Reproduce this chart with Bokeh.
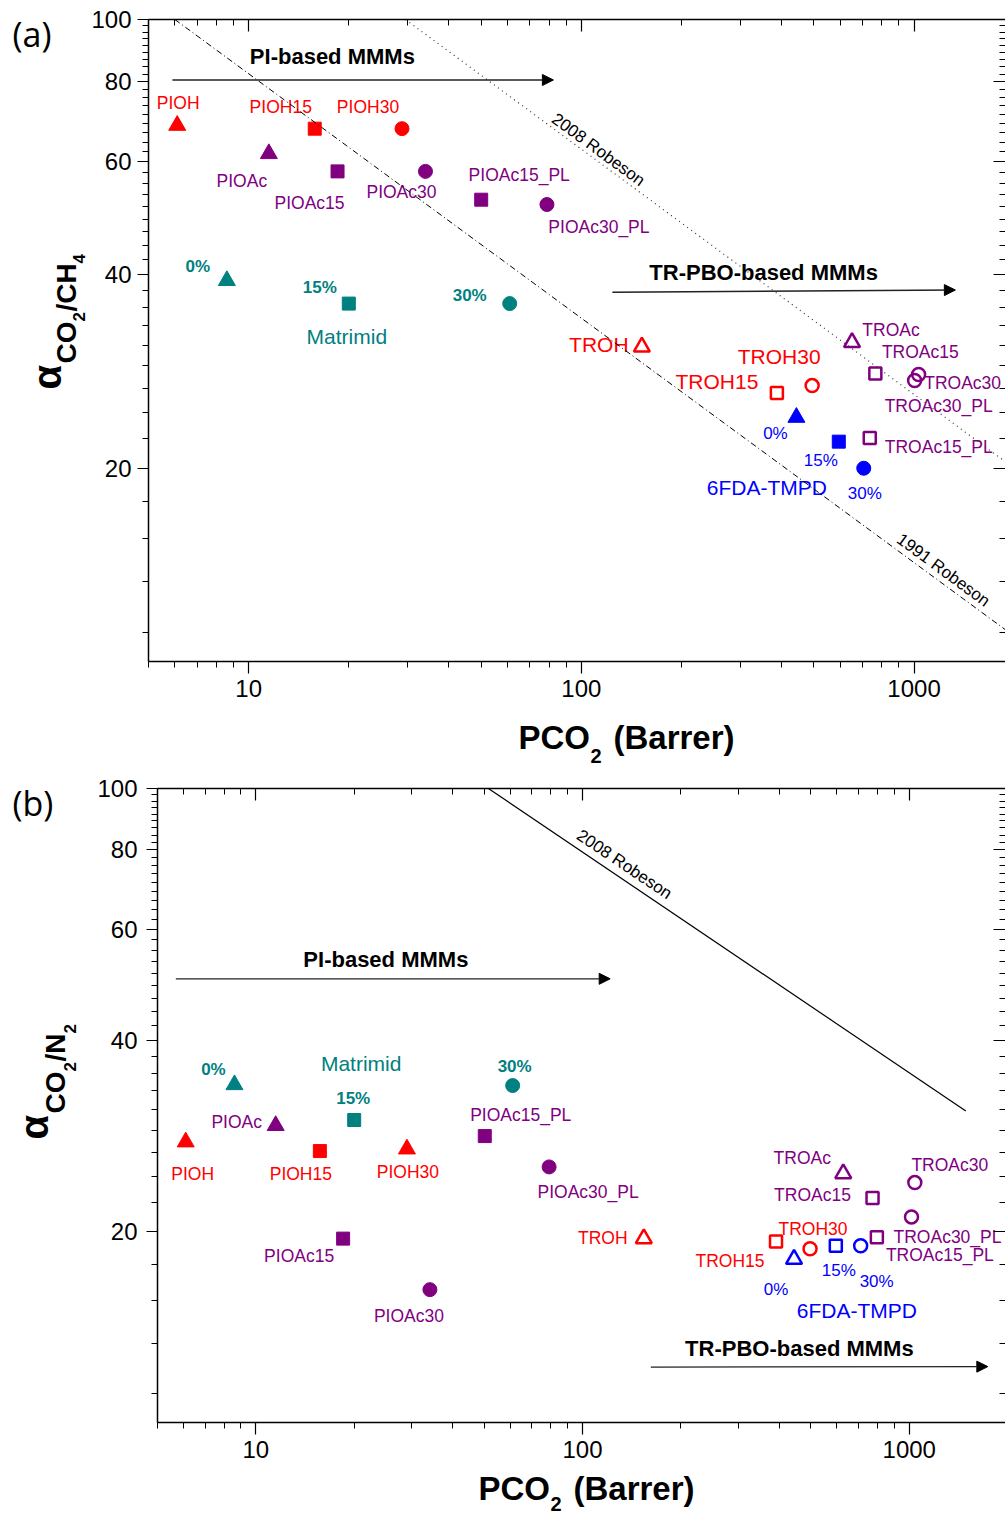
from bokeh.plotting import figure
from bokeh.models import (ColumnDataSource, FixedTicker, PrintfTickFormatter,
                          LogAxis, Range1d, Label, Arrow, NormalHead)
from bokeh.layouts import column, row
from bokeh.core.properties import value
from bokeh.embed import file_html
from bokeh.resources import INLINE

FONT = "Liberation Sans"
RED, PURPLE, TEAL, BLUE = "#FF0000", "#800080", "#008080", "#0000FF"

# ---------------- data ----------------
materials = ["PIOH", "PIOH15", "PIOH30", "PIOAc", "PIOAc15", "PIOAc30",
             "PIOAc15_PL", "PIOAc30_PL", "Matrimid 0%", "Matrimid 15%",
             "Matrimid 30%", "TROH", "TROH15", "TROH30", "TROAc", "TROAc15",
             "TROAc30", "TROAc30_PL", "TROAc15_PL", "6FDA-TMPD 0%",
             "6FDA-TMPD 15%", "6FDA-TMPD 30%"]
material_color = [RED] * 3 + [PURPLE] * 5 + [TEAL] * 3 + [RED] * 3 + [PURPLE] * 5 + [BLUE] * 3

marker_a = ["triangle", "square", "circle", "triangle", "square", "circle", "square", "circle",
            "triangle", "square", "circle", "triangle", "square", "circle", "triangle", "square",
            "circle", "circle", "square", "triangle", "square", "circle"]
filled_a = [1] * 11 + [0] * 8 + [1] * 3
marker_b = ["triangle", "square", "triangle", "triangle", "square", "circle", "square", "circle",
            "triangle", "square", "circle", "triangle", "square", "circle", "triangle", "square",
            "circle", "circle", "square", "triangle", "square", "circle"]
filled_b = [1] * 11 + [0] * 11

# (a) CO2/CH4
pco2_ch4 = [6.1, 15.8, 28.9, 11.5, 18.5, 34.0, 50.0, 78.8, 8.6, 20.0, 60.9,
            152, 387, 494, 651, 765, 1032, 1004, 736, 443, 594, 706]
sel_ch4 = [68.4, 67.6, 67.6, 61.8, 58.0, 58.0, 52.4, 51.5, 39.2, 36.1, 36.1,
           30.9, 26.2, 26.9, 31.4, 28.1, 28.0, 27.4, 22.3, 24.0, 22.0, 20.0]
# (b) CO2/N2
pco2_n2 = [6.1, 15.7, 29.0, 11.5, 18.5, 34.1, 50.2, 79.0, 8.6, 20.0, 61.1,
           154, 391, 497, 628, 772, 1040, 1016, 796, 444, 596, 710]
sel_n2 = [27.7, 26.8, 27.0, 29.4, 19.5, 16.2, 28.3, 25.3, 34.1, 30.0, 34.0,
          19.5, 19.3, 18.8, 24.7, 22.6, 23.9, 21.1, 19.6, 18.1, 19.0, 19.0]

label_text = ["PIOH", "PIOH15", "PIOH30", "PIOAc", "PIOAc15", "PIOAc30", "PIOAc15_PL",
              "PIOAc30_PL", "0%", "15%", "30%", "TROH", "TROH15", "TROH30", "TROAc",
              "TROAc15", "TROAc30", "TROAc30_PL", "TROAc15_PL", "0%", "15%", "30%",
              "Matrimid", "6FDA-TMPD"]
label_anchor = list(range(22)) + [9, 20]

# Robeson upper bounds (end points)
rob91_ch4_p, rob91_ch4_a = [6.0, 2000], [100, 10.95]
rob08_ch4_p, rob08_ch4_a = [29.6, 2000], [100, 20.0]
rob08_n2_p, rob08_n2_a = [51.5, 1490], [100, 31.0]

x_major = [10, 100, 1000]
x_minor = [m * d for d in (1, 10, 100, 1000) for m in range(2, 10)]
y_major = [20, 40, 60, 80, 100]
y_minor = [20 * n / 9 for n in range(5, 46) if n % 9]

# ---------------- layout / style ----------------
marker_size = {"triangle": 17, "square": 13, "circle": 14}

lab_off_a = [(1, -22), (-34, -22), (-34, -22), (-27, 27), (-28, 32), (-24, 21), (38, -25),
             (52, 22), (-29, -14), (-29, -16), (-40, -8), (-43, -2), (-60, -11), (-33, -29),
             (39, -12), (45, -21), (44, 9), (24, 26), (69, 9), (-21, 16), (-18, 19), (1, 25),
             (-2, 33), (-72, 46)]
lab_size_a = [17.5] * 8 + [17] * 3 + [21] * 3 + [17.5] * 5 + [17] * 3 + [21, 21]
lab_off_b = [(7, 32), (-19, 23), (1, 23), (-39, -4), (-44, 17), (-21, 26), (36, -21),
             (39, 25), (-21, -15), (-1, -22), (2, -19), (-41, -1), (-46, 20), (3, -20),
             (-41, -16), (-60, -3), (35, -18), (36, 20), (63, 18), (-18, 30), (3, 25),
             (16, 36), (7, -57), (21, 65)]
lab_size_b = [17.5] * 8 + [17] * 3 + [17.5] * 3 + [17.5] * 5 + [17] * 3 + [21, 21]
lab_bold = [0] * 8 + [1] * 3 + [0] * 13

YT_W = 88  # width of the strip that carries the y-axis title


def style_axis(ax, inward=False):
    ax.axis_line_color = "black"
    ax.axis_line_width = 1.5
    ax.major_tick_line_color = "black"
    ax.minor_tick_line_color = "black"
    ax.major_tick_line_width = 1.2
    ax.minor_tick_line_width = 1.0
    if inward:
        ax.major_tick_in, ax.major_tick_out = 12, 0
        ax.minor_tick_in, ax.minor_tick_out = 6, 0
        ax.major_label_text_font_size = "1px"
        ax.major_label_text_alpha = 0.0
        ax.major_label_standoff = 0
        ax.major_label_overrides = {t: " " for t in (x_major + y_major)}
    else:
        ax.major_tick_in, ax.major_tick_out = 0, 11
        ax.minor_tick_in, ax.minor_tick_out = 0, 6
        ax.major_label_text_font = FONT
        ax.major_label_text_font_size = "24px"
        ax.major_label_text_color = "black"
        ax.formatter = PrintfTickFormatter(format="%d")


def add_label(p, text, size, x, y, bold=True, angle=0.0):
    p.add_layout(Label(x=x, y=y, text=text, text_font=FONT,
                       text_font_size=f"{size}px",
                       text_font_style="bold" if bold else "normal",
                       angle=angle, text_align="center", text_baseline="middle",
                       text_color="black"))


def text_fig(w, h, items):
    """Blank strip whose data units are its own pixels (y measured from top)."""
    f = figure(width=w, height=h, x_range=Range1d(0, w), y_range=Range1d(0, h),
               output_backend="svg", toolbar_location=None, min_border=0,
               x_axis_location=None, y_axis_location=None)
    f.grid.visible = False
    f.outline_line_color = None
    f.frame_align = False
    for (txt, x, y, size, bold, angle, font) in items:
        f.text(x=[x], y=[h - y], text=[txt], angle=angle, text_font=value(font),
               text_font_size=f"{size}px",
               text_font_style="bold" if bold else "normal",
               text_align="left", text_baseline="middle", text_color="black")
    return f


def make_panel(W, H, L, T, B, frame_left, xdec, px, sel, markers, filled, offs,
               sizes, standoff):
    xend = 5 * 10 ** ((1005 - frame_left) / xdec)
    p = figure(width=W, height=H, x_axis_type="log", y_axis_type="log",
               x_range=Range1d(5, xend), y_range=Range1d(10, 100),
               output_backend="svg", toolbar_location=None,
               min_border_left=L, min_border_right=0, min_border_top=T,
               min_border_bottom=B)
    p.frame_align = False
    p.outline_line_color = None
    p.grid.visible = False
    p.background_fill_color = "white"
    p.border_fill_color = "white"

    style_axis(p.xaxis[0])
    p.xaxis[0].ticker = FixedTicker(ticks=x_major, minor_ticks=x_minor)
    p.xaxis[0].major_tick_out = 12
    p.xaxis[0].major_label_standoff = 6
    style_axis(p.yaxis[0])
    p.yaxis[0].ticker = FixedTicker(ticks=y_major, minor_ticks=y_minor)
    p.yaxis[0].major_label_standoff = standoff

    top = LogAxis(ticker=FixedTicker(ticks=x_major, minor_ticks=x_minor))
    style_axis(top, inward=True)
    p.add_layout(top, "above")
    right = LogAxis(ticker=FixedTicker(ticks=y_major, minor_ticks=y_minor))
    style_axis(right, inward=True)
    right.axis_line_color = None
    p.add_layout(right, "right")

    src = ColumnDataSource(dict(
        x=px, y=sel, marker=markers,
        size=[marker_size[m] - (0 if f else 1) for m, f in zip(markers, filled)],
        color=material_color, fa=[1.0 if f else 0.0 for f in filled],
        lw=[1.0 if f else 2.5 for f in filled]))
    p.scatter(x="x", y="y", marker="marker", size="size", fill_color="color",
              line_color="color", fill_alpha="fa", line_width="lw", source=src)

    lsrc = ColumnDataSource(dict(
        x=[px[i] for i in label_anchor], y=[sel[i] for i in label_anchor],
        text=label_text, dx=[o[0] for o in offs], dy=[o[1] for o in offs],
        color=[material_color[i] for i in label_anchor],
        fs=[f"{s}px" for s in sizes],
        fst=["bold" if b else "normal" for b in lab_bold]))
    p.text(x="x", y="y", text="text", x_offset="dx", y_offset="dy",
           text_color="color", text_font=value(FONT), text_font_size="fs",
           text_font_style="fst", text_align="center", text_baseline="middle",
           source=lsrc)
    return p


ROT = 1.5708

# ---------------- panel (a) ----------------
pa = make_panel(1005 - YT_W, 715, 148 - YT_W, 19, 54, 148, 332.7, pco2_ch4, sel_ch4,
                marker_a, filled_a, lab_off_a, lab_size_a, 6)
pa.line(rob91_ch4_p, rob91_ch4_a, line_color="black", line_width=1, line_dash="6 3 1 3")
pa.line(rob08_ch4_p, rob08_ch4_a, line_color="#333333", line_width=1.2, line_dash="1 4")
add_label(pa, "2008 Robeson", 17, 112.5, 62.7, bold=False, angle=-0.632)
add_label(pa, "1991 Robeson", 17, 1225, 13.88, bold=False, angle=-0.634)
pa.add_layout(Arrow(end=NormalHead(size=11, fill_color="black", line_color="black"),
                    x_start=5.9, y_start=80.5, x_end=82.4, y_end=80.5,
                    line_color="#222222", line_width=1.3))
add_label(pa, "PI-based MMMs", 22, 17.85, 87.6)
pa.add_layout(Arrow(end=NormalHead(size=11, fill_color="black", line_color="black"),
                    x_start=124, y_start=37.6, x_end=1331, y_end=37.9,
                    line_color="#222222", line_width=1.3))
add_label(pa, "TR-PBO-based MMMs", 22, 353, 40.4)

ya = text_fig(YT_W, 715, [
    ("(a)", 12, 33, 34, False, 0, "Open Sans"),
    ("\u03b1", 46, 389, 40, True, ROT, FONT),
    ("CO", 66, 363, 28, True, ROT, FONT),
    ("2", 78, 321, 17, True, ROT, FONT),
    ("/CH", 66, 311, 28, True, ROT, FONT),
    ("4", 78, 263, 17, True, ROT, FONT),
])
xa = text_fig(1005, 55, [
    ("PCO", 518, 22, 33, True, 0, FONT),
    ("2", 590, 40, 20, True, 0, FONT),
    ("(Barrer)", 613, 22, 33, True, 0, FONT),
])

# ---------------- panel (b) ----------------
pb = make_panel(1005 - YT_W, 700, 157 - YT_W, 18, 48, 157, 326.7, pco2_n2, sel_n2,
                marker_b, filled_b, lab_off_b, lab_size_b, 9)
pb.line(rob08_n2_p, rob08_n2_a, line_color="black", line_width=1.2)
add_label(pb, "2008 Robeson", 17, 134.3, 75.9, bold=False, angle=-0.592)
pb.add_layout(Arrow(end=NormalHead(size=11, fill_color="black", line_color="black"),
                    x_start=5.69, y_start=50.1, x_end=121.5, y_end=50.1,
                    line_color="#222222", line_width=1.3))
add_label(pb, "PI-based MMMs", 22, 25.0, 53.7)
pb.add_layout(Arrow(end=NormalHead(size=11, fill_color="black", line_color="black"),
                    x_start=161.8, y_start=12.23, x_end=1740, y_end=12.25,
                    line_color="#222222", line_width=1.3))
add_label(pb, "TR-PBO-based MMMs", 22, 461, 13.06)

yb = text_fig(YT_W, 700, [
    ("(b)", 12, 32, 34, False, 0, "Open Sans"),
    ("\u03b1", 33, 369, 40, True, ROT, FONT),
    ("CO", 55, 343, 28, True, ROT, FONT),
    ("2", 69, 301, 17, True, ROT, FONT),
    ("/N", 55, 291, 28, True, ROT, FONT),
    ("2", 69, 263, 17, True, ROT, FONT),
])
xb = text_fig(1005, 45, [
    ("PCO", 478, 18, 33, True, 0, FONT),
    ("2", 550, 33, 20, True, 0, FONT),
    ("(Barrer)", 573, 18, 33, True, 0, FONT),
])

layout = column(row(ya, pa, spacing=0), xa, row(yb, pb, spacing=0), xb, spacing=0)
open("out.html", "w").write(file_html(layout, INLINE))
